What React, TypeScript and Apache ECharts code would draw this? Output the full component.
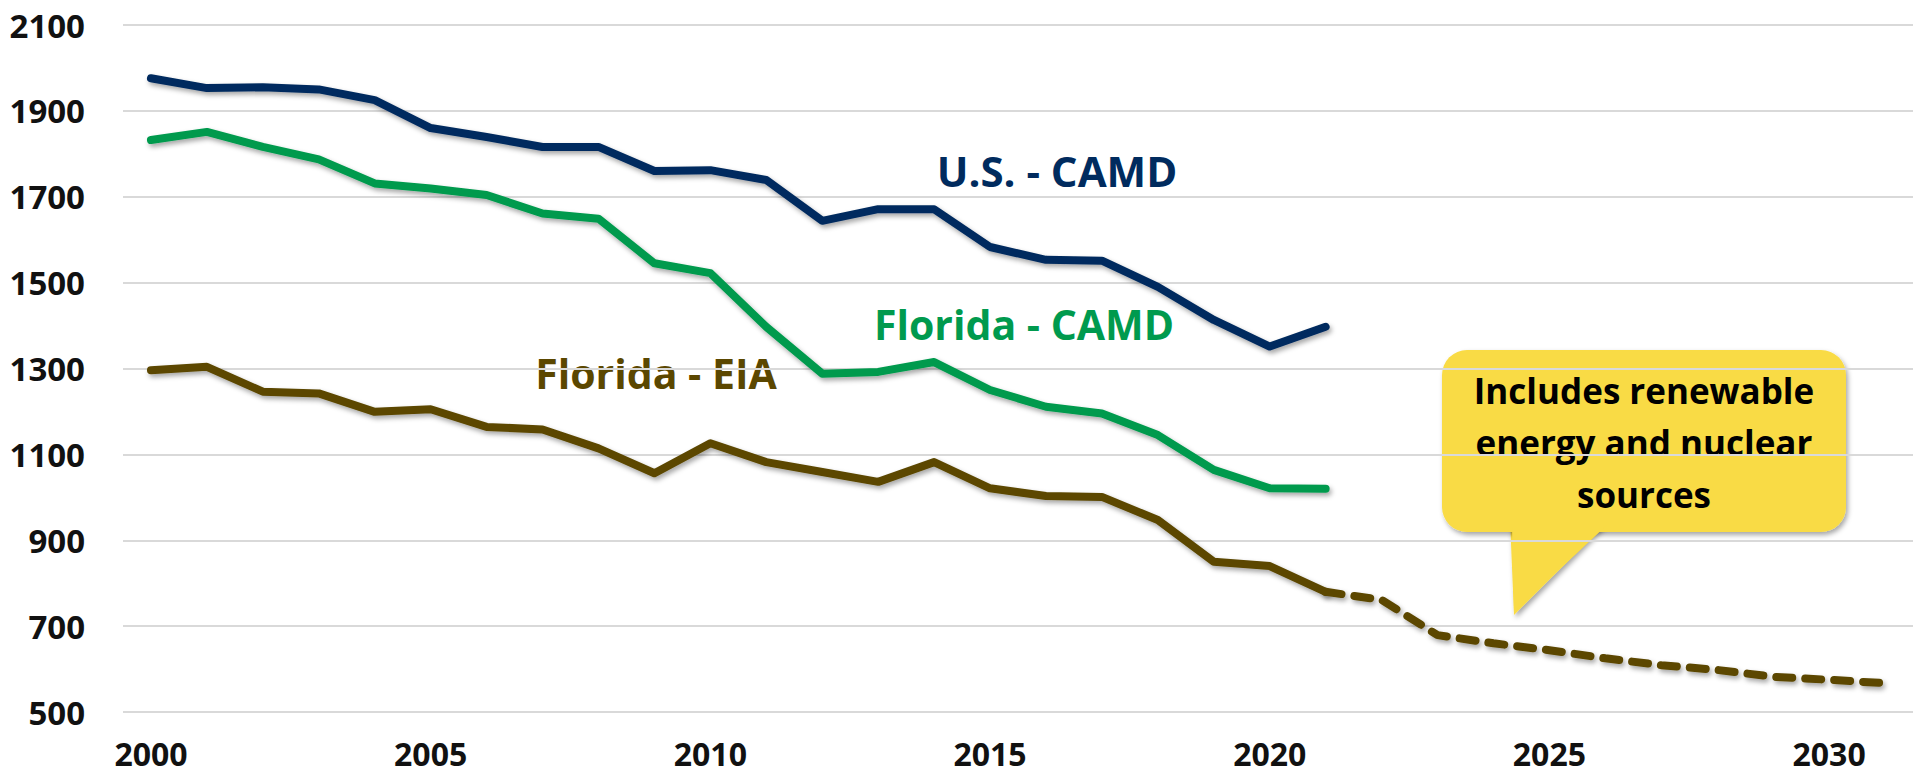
import React, { useEffect, useRef } from "react";
import * as echarts from "echarts";

const years: string[] = [];
for (let y = 2000; y <= 2031; y++) years.push(String(y));

const usCamd: (number | null)[] = [
  1976, 1953, 1955, 1950, 1925, 1860, 1839, 1816, 1816, 1760,
  1762, 1739, 1644, 1671, 1671, 1583, 1553, 1551, 1490, 1413,
  1351, 1397,
];
const flCamd: (number | null)[] = [
  1832, 1851, 1816, 1787, 1731, 1719, 1704, 1661, 1649, 1545,
  1522, 1397, 1288, 1292, 1315, 1250, 1211, 1195, 1145, 1064,
  1021, 1020,
];
const flEia: (number | null)[] = [
  1296, 1304, 1246, 1242, 1199, 1205, 1164, 1158, 1114, 1056,
  1126, 1082, 1059, 1036, 1082, 1021, 1003, 1001, 947, 850,
  840, 780,
];
const flEiaProjection: (number | null)[] = [
  null, null, null, null, null, null, null, null, null, null,
  null, null, null, null, null, null, null, null, null, null,
  null, 780, 761, 679, 660, 644, 625, 609, 598, 582, 575, 567,
];
const yTicks = [500, 700, 900, 1100, 1300, 1500, 1700, 1900, 2100];

const NAVY = "#002B5E";
const GREEN = "#009A4E";
const BROWN = "#5B4700";
const YELLOW = "#F9DB45";
const FONT = "'Open Sans', 'Noto Sans', sans-serif";

const shadow = {
  shadowColor: "rgba(0,0,0,0.35)",
  shadowBlur: 5,
  shadowOffsetX: 2,
  shadowOffsetY: 3,
};

export default function App() {
  const ref = useRef<HTMLDivElement>(null);
  useEffect(() => {
    if (!ref.current) return;
    const chart = echarts.init(ref.current, undefined, { renderer: "svg" });
    const lineSeries = (name: string, data: (number | null)[], color: string, dashed = false) => ({
      name,
      type: "line",
      data,
      symbol: "none",
      connectNulls: false,
      lineStyle: {
        color,
        width: 8,
        cap: "round",
        join: "round",
        type: dashed ? [16, 13] : "solid",
        ...shadow,
      },
      z: 3,
    });
    chart.setOption({
      animation: false,
      backgroundColor: "#ffffff",
      grid: { left: 123, top: 25, width: 1807, height: 687, containLabel: false },
      xAxis: {
        type: "category",
        data: years,
        boundaryGap: true,
        axisLine: { show: false },
        axisTick: { show: false },
        axisLabel: {
          interval: (i: number) => i % 5 === 0,
          margin: 26,
          lineHeight: 30,
          fontFamily: FONT,
          fontWeight: "bold",
          fontSize: 32,
          color: "#111111",
        },
        splitLine: { show: false },
      },
      yAxis: {
        type: "value",
        min: 500,
        max: 2100,
        axisLine: { show: false },
        axisTick: { show: false, customValues: yTicks },
        axisLabel: {
          customValues: yTicks,
          formatter: (v: number) => String(v),
          margin: 38,
          fontFamily: FONT,
          fontWeight: "bold",
          fontSize: 33,
          color: "#111111",
        },
        splitLine: { show: true, lineStyle: { color: "#D9D9D9", width: 2 } },
      },
      series: [
        lineSeries("U.S. - CAMD", usCamd, NAVY),
        lineSeries("Florida - CAMD", flCamd, GREEN),
        lineSeries("Florida - EIA", flEia, BROWN),
        lineSeries("Florida - EIA projection", flEiaProjection, BROWN, true),
      ],
      graphic: [
        {
          type: "text",
          x: 1057,
          y: 170,
          style: {
            text: "U.S. - CAMD",
            fill: NAVY,
            font: `bold 42px ${FONT}`,
            align: "center",
            verticalAlign: "middle",
          },
        },
        {
          type: "text",
          x: 1024,
          y: 324,
          style: {
            text: "Florida - CAMD",
            fill: GREEN,
            font: `bold 41px ${FONT}`,
            align: "center",
            verticalAlign: "middle",
          },
        },
        {
          type: "text",
          x: 656,
          y: 373,
          style: {
            text: "Florida - EIA",
            fill: BROWN,
            font: `bold 41px ${FONT}`,
            align: "center",
            verticalAlign: "middle",
          },
        },
        {
          type: "group",
          z: 10,
          children: [
            {
              type: "polygon",
              shape: { points: [[1510, 520], [1609, 520], [1514, 615]] },
              style: { fill: YELLOW, ...shadow },
            },
            {
              type: "rect",
              shape: { x: 1442, y: 350, width: 404, height: 182, r: 25 },
              style: { fill: YELLOW, ...shadow },
            },
            {
              type: "polygon",
              shape: { points: [[1512, 525], [1607, 525], [1514, 612]] },
              style: { fill: YELLOW },
            },
            {
              type: "text",
              x: 1644,
              y: 442,
              style: {
                text: "Includes renewable\nenergy and nuclear\nsources",
                fill: "#000000",
                font: `bold 35px ${FONT}`,
                lineHeight: 52,
                align: "center",
                verticalAlign: "middle",
              },
            },
          ],
        },
      ],
    });
    return () => chart.dispose();
  }, []);
  return (
    <div
      ref={ref}
      style={{ position: "fixed", left: 0, top: 0, width: 1913, height: 776, background: "#fff" }}
    />
  );
}
